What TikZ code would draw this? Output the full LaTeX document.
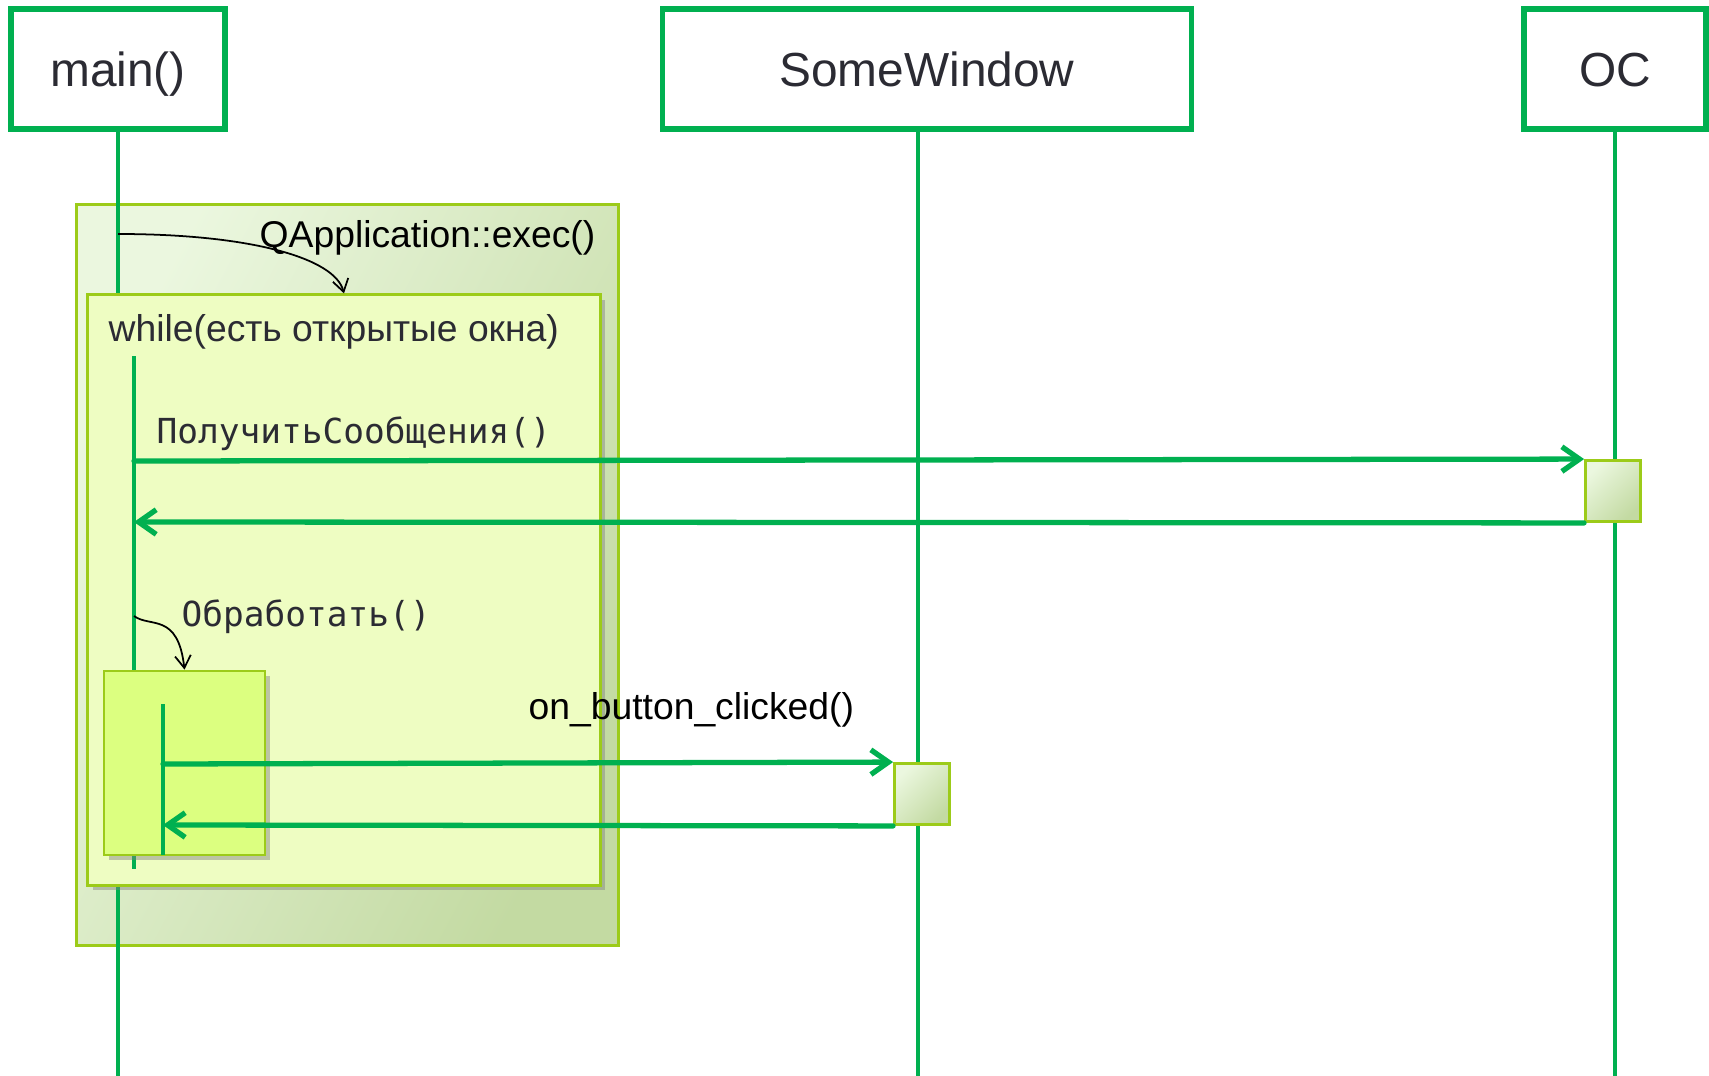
\documentclass[tikz,border=0pt]{standalone}
\usepackage{fontspec}
\setmainfont{Liberation Sans}
\newfontfamily\monofont{DejaVu Sans Mono}
\usetikzlibrary{arrows.meta,shadows}
\definecolor{lifegreen}{HTML}{00B050}
\definecolor{framerim}{HTML}{9CCB19}
\definecolor{frametop}{HTML}{EBF7DF}
\definecolor{framemid}{HTML}{E0F1CF}
\definecolor{framebot}{HTML}{C3DAA2}
\definecolor{loopfill}{HTML}{EEFDC2}
\definecolor{callfill}{HTML}{DCFF80}
\definecolor{inktext}{HTML}{2B2B33}
\begin{document}
\begin{tikzpicture}[x=0.01cm,y=-0.01cm,
    head/.style={draw=lifegreen,line width=1.5pt,fill=white,text=inktext,inner sep=0pt,
      minimum height=1.2cm,text height=9.7pt,text depth=0pt,font=\fontsize{13.6}{16}\selectfont},
    life/.style={lifegreen,line width=1.3pt},
    msg/.style={lifegreen,line width=1.5pt,line cap=round,-{Straight Barb[length=5pt,width=7pt]}},
    self/.style={black,line width=0.5pt,-{Straight Barb[length=3.5pt,width=4.5pt]}},
    frame/.style={draw=framerim,line width=0.8pt,inner sep=0pt},
    actbox/.style={frame,top color=frametop,bottom color=framebot,shading angle=45,
      minimum width=0.55cm,minimum height=0.61cm},
    shade box/.style={drop shadow={shadow xshift=1.5pt,shadow yshift=-1.5pt,opacity=0.45}},
    lbl/.style={anchor=west,inner sep=0pt,font=\fontsize{10.6}{12}\selectfont},
    mono/.style={anchor=west,inner sep=0pt,text=inktext,font=\monofont\fontsize{9.8}{12}\selectfont}]
    \useasboundingbox (0,0) rectangle (1709,1076);
    % participants
    \node[head,minimum width=2.14cm] (main) at (118,69) {main()};
    \node[head,minimum width=5.28cm] (win) at (927,69) {SomeWindow};
    \node[head,minimum width=1.82cm] (os) at (1615,69) {OC};
    \coordinate (mainEnd) at (118,1076);
    \coordinate (winEnd) at (918,1076);
    \coordinate (osEnd) at (1615,1076);
    \draw[life] (win.south -| winEnd) -- (winEnd);
    \draw[life] (os.south) -- (osEnd);
    % QApplication::exec()
    \node[frame,top color=frametop,middle color=framemid,bottom color=framebot,shading angle=62,
      minimum width=5.41cm,minimum height=7.4cm] (app) at (347.5,575) {};
    \draw[life] (main.south) -- (mainEnd);
    \node[frame,fill=loopfill,shade box,minimum width=5.12cm,minimum height=5.9cm] (loop) at (344,590) {};
    \coordinate (execFrom) at (118,234);
    \draw[self] (execFrom) .. controls (250,234) and (335,258) .. (loop.north);
    \node[lbl] (execLbl) at (259,238) {QApplication::exec()};
    \node[lbl,text=inktext] (loopLbl) at (108,332) {while(есть открытые окна)};
    % loop body
    \coordinate (loopTop) at (134,356);
    \coordinate (loopBot) at (134,869);
    \draw[life] (loopTop) -- (loopBot);
    \node[actbox] (osact) at (1613,491) {};
    \coordinate (getFrom) at (134,461);
    \coordinate (getBack) at (134,522);
    \draw[msg] (getFrom) -- (osact.north west);
    \draw[msg] (osact.south west) -- (getBack);
    \node[mono] (getLbl) at (156,434) {ПолучитьСообщения()};
    % handling
    \node[frame,fill=callfill,shade box,minimum width=1.61cm,minimum height=1.84cm] (handle) at (184.5,763) {};
    \coordinate (handleFrom) at (134,616);
    \draw[self] (handleFrom) .. controls (150,628) and (178,612) .. (handle.north);
    \node[mono] (handleLbl) at (181,617) {Обработать()};
    \coordinate (clickTop) at (163,704);
    \coordinate (clickBot) at (163,855);
    \draw[life] (clickTop) -- (clickBot);
    \node[actbox] (winact) at (922,794) {};
    \coordinate (clickFrom) at (163,764);
    \coordinate (clickBack) at (163,825);
    \draw[msg] (clickFrom) -- (winact.north west);
    \draw[msg] (winact.south west) -- (clickBack);
    \node[lbl] (clickLbl) at (528,710) {on\_button\_clicked()};
  \end{tikzpicture}
\end{document}
